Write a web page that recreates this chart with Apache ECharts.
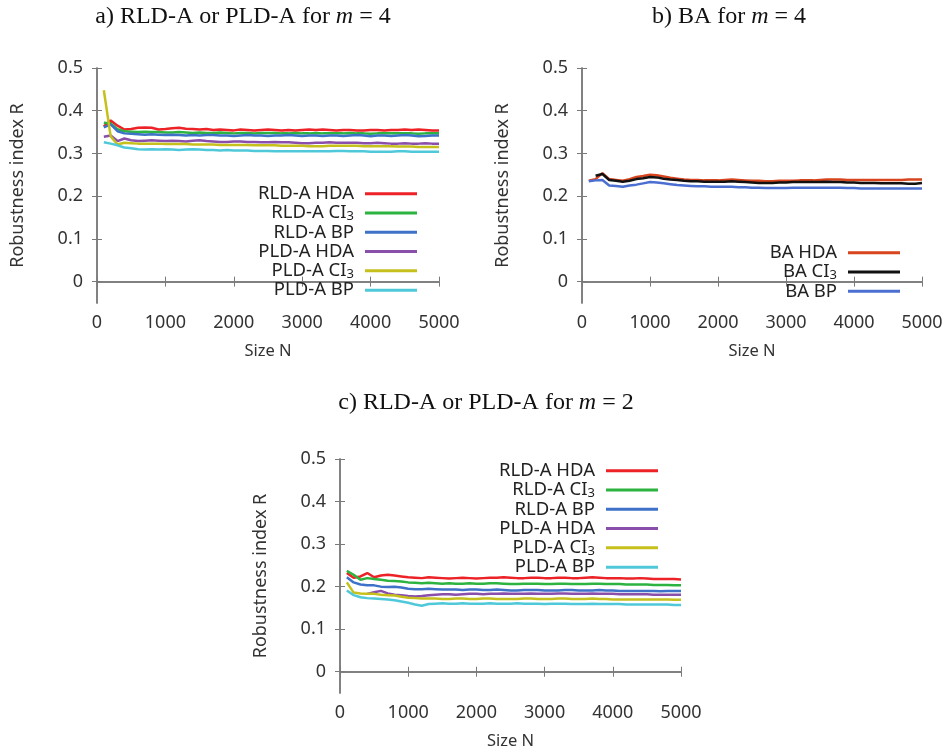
<!DOCTYPE html>
<html>
<head>
<meta charset="utf-8">
<script src="https://cdn.jsdelivr.net/npm/echarts@6/dist/echarts.min.js"></script>
<style>html,body{margin:0;padding:0;background:#fff;}#c{width:948px;height:753px;}</style>
</head>
<body>
<div id="c"></div>
<script>
// ---- data ----
const sizesN = [100,200,300,400,500,600,700,800,900,1000,1100,1200,1300,1400,1500,1600,1700,1800,1900,2000,2100,2200,2300,2400,2500,2600,2700,2800,2900,3000,3100,3200,3300,3400,3500,3600,3700,3800,3900,4000,4100,4200,4300,4400,4500,4600,4700,4800,4900,5000];
const xTicks = [0,1000,2000,3000,4000,5000];
const yTicks = [0,0.1,0.2,0.3,0.4,0.5];

// panel a (m = 4)
const a_RLD_HDA = [0.363,0.377,0.365,0.356,0.357,0.360,0.361,0.360,0.356,0.357,0.359,0.360,0.358,0.357,0.356,0.357,0.355,0.356,0.355,0.354,0.356,0.355,0.354,0.355,0.356,0.355,0.354,0.355,0.354,0.355,0.356,0.355,0.356,0.355,0.354,0.355,0.355,0.354,0.354,0.355,0.355,0.354,0.355,0.355,0.356,0.355,0.356,0.355,0.354,0.354];
const a_RLD_CI3 = [0.372,0.370,0.357,0.352,0.351,0.350,0.351,0.350,0.350,0.349,0.349,0.350,0.349,0.348,0.349,0.348,0.348,0.349,0.348,0.347,0.348,0.348,0.347,0.348,0.348,0.348,0.347,0.347,0.348,0.347,0.347,0.348,0.347,0.347,0.347,0.347,0.348,0.347,0.347,0.346,0.347,0.347,0.347,0.347,0.347,0.347,0.346,0.347,0.347,0.347];
const a_RLD_BP = [0.361,0.368,0.352,0.347,0.346,0.345,0.344,0.345,0.344,0.343,0.344,0.343,0.342,0.343,0.342,0.343,0.343,0.342,0.342,0.341,0.342,0.343,0.342,0.342,0.341,0.342,0.342,0.343,0.342,0.341,0.342,0.342,0.341,0.342,0.342,0.341,0.342,0.343,0.342,0.340,0.342,0.342,0.341,0.342,0.343,0.342,0.340,0.341,0.342,0.342];
const a_PLD_HDA = [0.339,0.342,0.329,0.335,0.331,0.329,0.330,0.331,0.330,0.329,0.330,0.329,0.328,0.330,0.331,0.329,0.328,0.327,0.327,0.328,0.328,0.327,0.327,0.326,0.326,0.327,0.326,0.326,0.325,0.324,0.324,0.325,0.325,0.326,0.325,0.325,0.325,0.325,0.324,0.324,0.325,0.324,0.323,0.323,0.324,0.323,0.323,0.324,0.323,0.323];
const a_PLD_CI3 = [0.448,0.340,0.321,0.325,0.324,0.323,0.323,0.323,0.323,0.322,0.322,0.322,0.322,0.321,0.321,0.321,0.321,0.320,0.320,0.320,0.320,0.320,0.319,0.319,0.319,0.319,0.318,0.318,0.318,0.318,0.317,0.317,0.317,0.318,0.318,0.318,0.318,0.318,0.317,0.317,0.317,0.317,0.317,0.316,0.316,0.316,0.315,0.315,0.315,0.315];
const a_PLD_BP = [0.326,0.323,0.319,0.314,0.312,0.310,0.309,0.310,0.309,0.310,0.309,0.308,0.309,0.310,0.309,0.308,0.308,0.307,0.308,0.307,0.307,0.307,0.306,0.306,0.306,0.305,0.305,0.305,0.305,0.305,0.305,0.305,0.305,0.305,0.306,0.306,0.305,0.305,0.305,0.304,0.304,0.304,0.304,0.305,0.305,0.304,0.304,0.304,0.304,0.304];

// panel b (BA, m = 4)
const b_BA_HDA = [0.236,0.240,0.254,0.240,0.238,0.236,0.240,0.245,0.247,0.250,0.249,0.246,0.243,0.241,0.239,0.238,0.238,0.237,0.237,0.237,0.238,0.239,0.238,0.237,0.236,0.236,0.235,0.235,0.236,0.236,0.236,0.237,0.237,0.237,0.238,0.239,0.239,0.239,0.238,0.238,0.238,0.238,0.238,0.238,0.238,0.238,0.238,0.239,0.239,0.239];
const b_BA_CI3 = [null,0.248,0.252,0.238,0.236,0.234,0.236,0.240,0.242,0.245,0.244,0.241,0.239,0.238,0.236,0.235,0.235,0.234,0.234,0.234,0.234,0.235,0.234,0.233,0.232,0.231,0.231,0.231,0.232,0.232,0.233,0.233,0.233,0.233,0.233,0.234,0.233,0.233,0.232,0.232,0.231,0.231,0.231,0.230,0.230,0.230,0.230,0.229,0.229,0.231];
const b_BA_BP = [0.235,0.237,0.238,0.225,0.224,0.222,0.225,0.227,0.230,0.233,0.232,0.230,0.228,0.226,0.225,0.224,0.223,0.223,0.222,0.222,0.222,0.222,0.221,0.221,0.220,0.220,0.219,0.219,0.219,0.219,0.220,0.220,0.220,0.220,0.220,0.220,0.220,0.220,0.219,0.219,0.218,0.218,0.218,0.218,0.218,0.218,0.218,0.218,0.218,0.218];

// panel c (m = 2)
const c_RLD_HDA = [0.232,0.221,0.224,0.232,0.222,0.226,0.228,0.226,0.224,0.222,0.221,0.220,0.222,0.221,0.220,0.219,0.220,0.221,0.220,0.219,0.220,0.221,0.221,0.222,0.221,0.220,0.220,0.221,0.221,0.220,0.220,0.221,0.221,0.220,0.220,0.221,0.222,0.221,0.220,0.220,0.220,0.219,0.219,0.220,0.219,0.218,0.218,0.218,0.218,0.217];
const c_RLD_CI3 = [0.237,0.228,0.216,0.220,0.218,0.216,0.214,0.213,0.212,0.210,0.209,0.208,0.209,0.208,0.207,0.208,0.207,0.207,0.208,0.207,0.207,0.208,0.208,0.207,0.206,0.206,0.207,0.207,0.207,0.206,0.206,0.207,0.207,0.206,0.206,0.206,0.207,0.207,0.206,0.206,0.206,0.205,0.205,0.205,0.205,0.204,0.204,0.204,0.203,0.203];
const c_RLD_BP = [0.222,0.210,0.205,0.203,0.203,0.200,0.199,0.200,0.198,0.195,0.194,0.194,0.195,0.194,0.193,0.193,0.193,0.192,0.193,0.193,0.192,0.192,0.193,0.192,0.191,0.191,0.192,0.192,0.192,0.191,0.191,0.191,0.192,0.192,0.191,0.191,0.191,0.192,0.191,0.191,0.190,0.190,0.190,0.190,0.190,0.190,0.189,0.190,0.190,0.190];
const c_PLD_HDA = [null,null,null,0.183,0.187,0.190,0.184,0.181,0.180,0.178,0.177,0.178,0.180,0.181,0.182,0.182,0.181,0.182,0.183,0.183,0.182,0.183,0.183,0.184,0.183,0.183,0.183,0.184,0.183,0.183,0.183,0.184,0.184,0.183,0.183,0.183,0.184,0.183,0.183,0.183,0.182,0.182,0.182,0.182,0.182,0.181,0.181,0.181,0.181,0.181];
const c_PLD_CI3 = [0.210,0.186,0.184,0.183,0.183,0.181,0.180,0.179,0.176,0.174,0.173,0.172,0.172,0.172,0.171,0.171,0.172,0.172,0.171,0.171,0.172,0.172,0.171,0.171,0.171,0.171,0.172,0.172,0.171,0.171,0.171,0.172,0.172,0.171,0.171,0.171,0.172,0.171,0.171,0.170,0.170,0.170,0.170,0.170,0.170,0.170,0.170,0.170,0.169,0.169];
const c_PLD_BP = [0.191,0.180,0.175,0.173,0.172,0.171,0.170,0.168,0.165,0.162,0.158,0.155,0.159,0.160,0.161,0.160,0.160,0.161,0.160,0.160,0.160,0.161,0.160,0.160,0.160,0.161,0.160,0.160,0.160,0.159,0.160,0.160,0.160,0.159,0.159,0.159,0.160,0.159,0.159,0.159,0.159,0.158,0.158,0.158,0.158,0.158,0.158,0.158,0.157,0.157];

const namesA = ['RLD-A HDA','RLD-A CI3','RLD-A BP','PLD-A HDA','PLD-A CI3','PLD-A BP'];
const namesB = ['BA HDA','BA CI3','BA BP'];
const colorsA = ['#ec2227','#2db340','#3d72c8','#8a4fab','#c6c01c','#4fc9d9'];
const colorsB = ['#d7441d','#111111','#4b6fd1'];

// ---- chart ----
const chart = echarts.init(document.getElementById('c'), null, {renderer:'canvas'});
const FONT = 'Noto Sans';
const AX = '#7a7a7a';
const grids = [
  {left:97, right:948-439, top:68, bottom:753-303},
  {left:582, right:948-922, top:68, bottom:753-303},
  {left:340, right:948-681, top:459, bottom:753-693}
];
const xAxes = [], yAxes = [];
grids.forEach((g,i)=>{
  xAxes.push({type:'value', gridIndex:i, min:0, max:5000, interval:1000, position:'bottom',
    name:'Size N', nameLocation:'middle', nameGap:40, nameTextStyle:{fontFamily:FONT,fontSize:16.5,color:'#333'},
    axisLine:{show:true,lineStyle:{color:AX,width:1.5}}, axisTick:{inside:true,length:5,lineStyle:{color:AX}},
    axisLabel:{fontFamily:FONT,fontSize:18,color:'#333',margin:11,formatter:v=>String(v)}, splitLine:{show:false}});
  xAxes.push({type:'value', gridIndex:i, min:0, max:5000, interval:1000, position:'top',
    axisLine:{show:true,lineStyle:{color:AX,width:1.5}}, axisTick:{inside:true,length:5,lineStyle:{color:AX}},
    axisLabel:{show:false}, splitLine:{show:false}});
  yAxes.push({type:'value', gridIndex:i, min:-0.05, max:0.5, position:'left',
    name:'Robustness index R', nameLocation:'middle', nameGap:70, nameRotate:90,
    nameTextStyle:{fontFamily:FONT,fontSize:18,color:'#333'},
    axisLine:{show:true,lineStyle:{color:AX,width:1.5}},
    axisTick:{inside:true,length:5,lineStyle:{color:AX},customValues:yTicks},
    axisLabel:{fontFamily:FONT,fontSize:18,color:'#333',margin:14,customValues:yTicks,
      formatter:v=>String(Math.round(v*10)/10)}, splitLine:{show:false}});
  yAxes.push({type:'value', gridIndex:i, min:-0.05, max:0.5, position:'right',
    axisLine:{show:true,lineStyle:{color:AX,width:1.5}},
    axisTick:{inside:true,length:5,lineStyle:{color:AX},customValues:yTicks},
    axisLabel:{show:false}, splitLine:{show:false}});
});

function pairs(arr){ return sizesN.map((n,i)=>[n,arr[i]]); }
const series = [];
function addSeries(name, arr, color, gi){
  series.push({type:'line', name:name, xAxisIndex:gi*2, yAxisIndex:gi*2, data:pairs(arr),
    symbol:'none', connectNulls:false, lineStyle:{color:color,width:2.5}, itemStyle:{color:color},
    emphasis:{disabled:true}, animation:false});
}
const dataA = [a_RLD_HDA,a_RLD_CI3,a_RLD_BP,a_PLD_HDA,a_PLD_CI3,a_PLD_BP];
const dataC = [c_RLD_HDA,c_RLD_CI3,c_RLD_BP,c_PLD_HDA,c_PLD_CI3,c_PLD_BP];
const dataB = [b_BA_HDA,b_BA_CI3,b_BA_BP];
namesA.forEach((n,i)=>addSeries(n, dataA[i], colorsA[i], 0));
namesB.forEach((n,i)=>addSeries(n, dataB[i], colorsB[i], 1));
namesA.forEach((n,i)=>addSeries(n+' ', dataC[i], colorsA[i], 2));

const richSub = {sub:{fontFamily:FONT,fontSize:13,lineHeight:13,color:'#222',padding:[6,0,0,0]}};
function legendFmt(name){ return name.trim().replace('CI3','CI{sub|3}'); }
function mkLegend(data, right, top){
  return {data:data, orient:'vertical', align:'right', right:right, top:top, itemWidth:52, itemHeight:3,
    itemGap:0, icon:'rect', selectedMode:false, formatter:legendFmt, padding:0,
    textStyle:{fontFamily:FONT,fontSize:18.5,color:'#222',lineHeight:19.3,padding:[0,6,0,0],rich:richSub}};
}

const option = {
  animation:false,
  backgroundColor:'#fff',
  title:[
    {text:'a) RLD-A or PLD-A for {i|m} = 4', left:238, top:0, textAlign:'center',
     textStyle:{fontFamily:'Liberation Serif',fontSize:24,fontWeight:'normal',color:'#111',
       rich:{i:{fontFamily:'Liberation Serif',fontSize:24,fontStyle:'italic',color:'#111'}}}},
    {text:'b) BA for {i|m} = 4', left:724, top:0, textAlign:'center',
     textStyle:{fontFamily:'Liberation Serif',fontSize:24,fontWeight:'normal',color:'#111',
       rich:{i:{fontFamily:'Liberation Serif',fontSize:24,fontStyle:'italic',color:'#111'}}}},
    {text:'c) RLD-A or PLD-A for {i|m} = 2', left:481, top:386, textAlign:'center',
     textStyle:{fontFamily:'Liberation Serif',fontSize:24,fontWeight:'normal',color:'#111',
       rich:{i:{fontFamily:'Liberation Serif',fontSize:24,fontStyle:'italic',color:'#111'}}}}
  ],
  grid:grids,
  xAxis:xAxes,
  yAxis:yAxes,
  legend:[
    mkLegend(namesA, 948-417, 184),
    mkLegend(namesB, 948-900, 243),
    mkLegend(namesA.map(n=>n+' '), 948-658, 461)
  ],
  series:series
};
chart.setOption(option);
</script>
</body>
</html>
